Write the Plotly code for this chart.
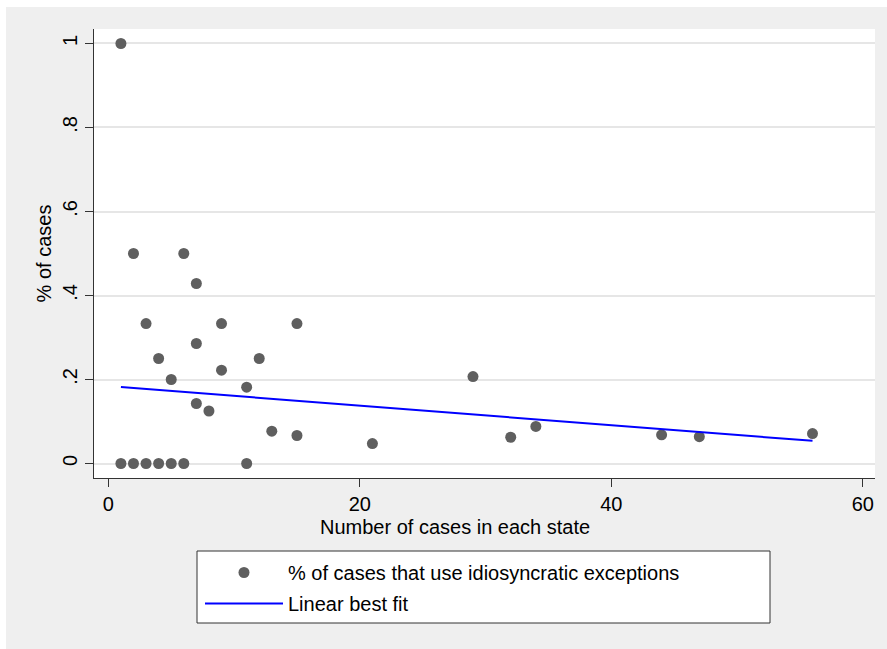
import plotly.graph_objects as go

# ---- data ----
cases = [1, 1, 2, 3, 4, 5, 6, 11, 2, 6, 7, 3, 9, 15, 7, 4, 12, 5, 9, 11,
         7, 8, 13, 15, 21, 29, 32, 34, 44, 47, 56]
share = [1.0, 0, 0, 0, 0, 0, 0, 0, 0.5, 0.5, 0.4286, 0.3333, 0.3333, 0.3333,
         0.2857, 0.25, 0.25, 0.2, 0.2222, 0.1818, 0.1429, 0.125, 0.0769,
         0.0667, 0.0476, 0.2069, 0.0625, 0.0882, 0.0682, 0.0638, 0.0714]
fit_x = [1, 56]
fit_y = [0.182, 0.054]

x_ticks = [0, 20, 40, 60]
y_ticks = [0, 0.2, 0.4, 0.6, 0.8, 1.0]
y_tick_text = ["0", ".2", ".4", ".6", ".8", "1"]

scatter_name = "% of cases that use idiosyncratic exceptions"
fit_name = "Linear best fit"
x_title = "Number of cases in each state"
y_title = "% of cases"

FONT = "Liberation Sans, Arial, sans-serif"
W, H = 887, 649
PLOT_L, PLOT_R, PLOT_T, PLOT_B = 94, 875, 29, 478  # page pixels
ML, MT = PLOT_L, PLOT_T
MR, MB = W - PLOT_R, H - PLOT_B
PW, PH = W - ML - MR, H - MT - MB


def px(xp):
    return (xp - ML) / PW


def py(yp):
    return (H - MB - yp) / PH


fig = go.Figure()
fig.add_trace(go.Scatter(
    x=cases, y=share, mode="markers", name=scatter_name, legendgroup="a",
    marker=dict(color="#5f5f5f", size=11),
))
fig.add_trace(go.Scatter(
    x=fit_x, y=fit_y, mode="lines", name=fit_name, legendgroup="b",
    line=dict(color="#0000ff", width=2),
))

shapes = [
    # thin white strips along the top and left edges of the frame
    dict(type="rect", xref="paper", yref="paper", layer="below",
         x0=px(0), x1=px(W), y0=py(7), y1=py(0),
         fillcolor="white", line=dict(width=0)),
    dict(type="rect", xref="paper", yref="paper", layer="below",
         x0=px(0), x1=px(6), y0=py(H), y1=py(0),
         fillcolor="white", line=dict(width=0)),
    # plot area
    dict(type="rect", xref="paper", yref="paper", layer="below",
         x0=0, x1=1, y0=0, y1=1, fillcolor="white", line=dict(width=0)),
    # legend box
    dict(type="rect", xref="paper", yref="paper", layer="below",
         x0=px(197), x1=px(770), y0=py(623), y1=py(551),
         fillcolor="white", line=dict(color="#333333", width=1)),
]

fig.update_layout(
    width=W, height=H,
    margin=dict(l=ML, r=MR, t=MT, b=MB, autoexpand=False),
    paper_bgcolor="#efefef", plot_bgcolor="white",
    font=dict(family=FONT, size=20, color="black"),
    shapes=shapes,
    showlegend=True,
    legend=dict(
        x=px(200), y=py(553), xanchor="left", yanchor="top",
        bgcolor="rgba(0,0,0,0)", borderwidth=0,
        font=dict(size=20), tracegroupgap=2, itemwidth=78,
    ),
    annotations=[dict(
        text=x_title, xref="paper", yref="paper", x=px(455), y=py(527),
        xanchor="center", yanchor="middle", showarrow=False,
        font=dict(size=20, family=FONT, color="black"),
    )],
    xaxis=dict(
        range=[-1.14, 60.97], tickvals=x_ticks, ticks="outside", ticklen=8,
        tickcolor="#333333", showline=True, linecolor="#333333", linewidth=1,
        showgrid=False, zeroline=False, tickfont=dict(size=20),
    ),
    yaxis=dict(
        range=[-0.0345, 1.0345], tickvals=y_ticks, ticktext=y_tick_text,
        tickangle=-90, ticks="outside", ticklen=8, tickcolor="#333333",
        showline=True, linecolor="#333333", linewidth=1,
        showgrid=True, gridcolor="#e6e6e6", gridwidth=2, zeroline=False,
        tickfont=dict(size=20),
        title=dict(text=y_title, font=dict(size=20), standoff=2),
    ),
)

fig.write_html(
    "out.html",
    config={"displayModeBar": False},
    post_script="document.body.style.margin='0';"
                "document.body.style.overflow='hidden';",
)
